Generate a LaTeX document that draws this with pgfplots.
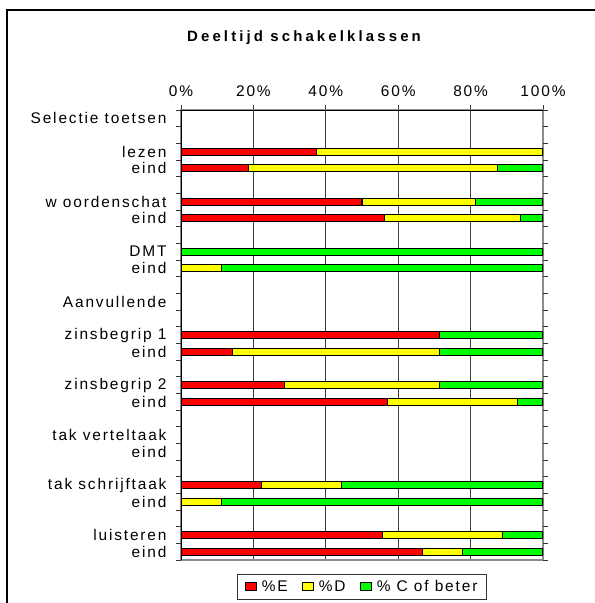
\documentclass[border=0pt]{standalone}
\usepackage{pgfplots}
\pgfplotsset{compat=1.18}
\usepackage{pgfplotstable}
\usepackage{fontspec}
\setmainfont{Liberation Sans}
\newfontfamily\lab[LetterSpace=12]{Liberation Sans}
\newfontfamily\ttl[LetterSpace=21]{Liberation Sans}
\definecolor{xred}{RGB}{255,0,0}
\definecolor{xyel}{RGB}{255,255,0}
\definecolor{xgrn}{RGB}{0,255,0}
\pgfplotstableread{
y E D C
3 37.5 62.5 0
4 18.75 68.75 12.5
6 50 31.25 18.75
7 56.25 37.5 6.25
9 0 0 100
10 0 11.1 88.9
14 71.4 0 28.6
15 14.3 57.1 28.6
17 28.6 42.8 28.6
18 57.1 35.8 7.1
23 22.2 22.2 55.6
24 0 11.1 88.9
26 55.6 33.3 11.1
27 66.7 11.1 22.2
}\data
\begin{document}
\begin{tikzpicture}
\path[use as bounding box] (0bp,0bp) rectangle (595bp,-603bp);
\draw[line width=2bp] (7bp,-603bp) -- (7bp,-10bp) -- (595bp,-10bp);
\node[font=\ttl\bfseries\fontsize{15}{17}\selectfont, anchor=base] at (304bp,-41.5bp) {Deeltijd schakelklassen};
\begin{axis}[
  at={(181bp,-110bp)}, anchor=north west,
  scale only axis, width=362bp, height=450bp,
  xmin=0, xmax=100, ymin=0.5, ymax=27.5, y dir=reverse,
  xbar stacked, bar width=7bp,
  axis line style={black!45, line width=1.2bp},
  xtick={0,20,...,100},
  xticklabels={0\%,20\%,40\%,60\%,80\%,100\%},
  xtick pos=right, xticklabel pos=right,
  tick align=outside, major tick length=5bp,
  xtick style={draw=black!80, line width=0.8bp},
  xmajorgrids, major grid style={black!75, line width=0.8bp},
  ytick={1,3,4,6,7,9,10,12,14,15,17,18,20,21,23,24,26,27},
  yticklabels={Selectie toetsen,lezen,eind,w oordenschat,eind,DMT,eind,Aanvullende,zinsbegrip 1,eind,zinsbegrip 2,eind,tak verteltaak,eind,tak schrijftaak,eind,luisteren,eind},
  ytick style={draw=none},
  extra y ticks={0.5,1.5,...,27.5},
  extra y tick labels={},
  extra y tick style={ytick style={draw=black!80, line width=0.8bp}, grid=none},
  tick label style={font=\lab\fontsize{15.5}{17}\selectfont},
  yticklabel style={xshift=-6bp},
  xticklabel style={yshift=5bp},
  legend style={at={(0.5,-0.031)}, anchor=north, legend columns=3, draw=black!80, line width=0.8bp,
    font=\lab\fontsize{15.5}{17}\selectfont, inner xsep=7bp, inner ysep=4bp,
    /tikz/every even column/.append style={column sep=12bp},
    /tikz/every odd column/.append style={column sep=3bp}},
  legend image code/.code={\draw[#1, draw=black, line width=1.2bp] (0bp,-4bp) rectangle (11bp,4bp);},
  every axis plot/.append style={draw=black, line width=1.1bp},
]
\addplot[fill=xred] table[x=E,y=y] {\data};
\addplot[fill=xyel] table[x=D,y=y] {\data};
\addplot[fill=xgrn] table[x=C,y=y] {\data};
\legend{\%E,\%D,\% C of beter}
\draw[black, line width=1bp] (axis cs:0,27.5) -- (axis cs:0,0.5) -- (axis cs:100,0.5);
\end{axis}
\end{tikzpicture}
\end{document}
